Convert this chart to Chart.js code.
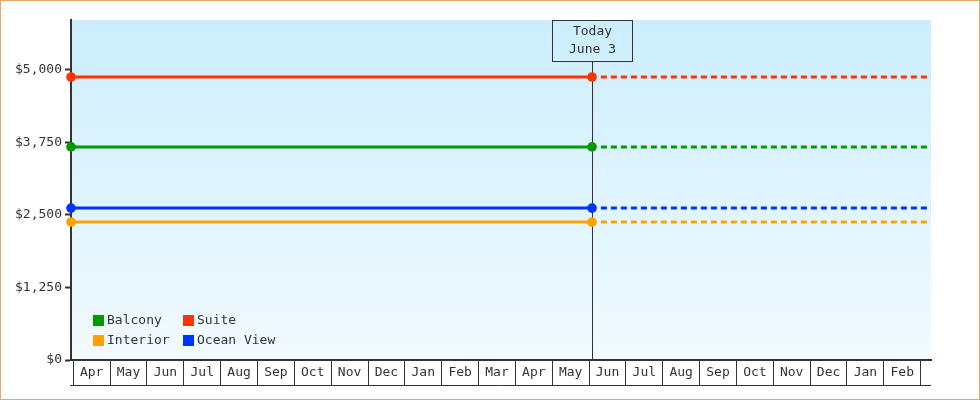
<!DOCTYPE html>
<html>
<head>
<meta charset="utf-8">
<script src="https://cdn.jsdelivr.net/npm/chart.js@4.4.1/dist/chart.umd.min.js"></script>
<style>
html,body{margin:0;padding:0;background:#fff;}
#wrap{width:980px;height:400px;position:relative;}
</style>
</head>
<body>
<div id="wrap"><canvas id="c" width="980" height="400"></canvas></div>
<script>
// ---- data ----
const monthLabels = ['Apr','May','Jun','Jul','Aug','Sep','Oct','Nov','Dec','Jan','Feb','Mar','Apr','May','Jun','Jul','Aug','Sep','Oct','Nov','Dec','Jan','Feb'];
const seriesNames = ['Balcony','Suite','Interior','Ocean View'];
const seriesValues = [3674, 4879, 2379, 2619];
const seriesColors = ['#009900','#ff3300','#ffa200','#0033ff'];
const yTickValues = [0, 1250, 2500, 3750, 5000];
const todayLabel = ['Today','June 3'];
const todayMonth = 14.08;   // June 3 in months since first April
const xMin = -0.062, xMax = 23.28, yMax = 5862;
const dashStartMonth = 14.32;

const FONT = '"DejaVu Sans Mono", monospace';
const INK = '#333333';

const datasets = seriesNames.map((name, i) => ({
  label: name,
  data: [
    {x: xMin, y: seriesValues[i]},
    {x: todayMonth, y: seriesValues[i]},
    {x: dashStartMonth, y: seriesValues[i]},
    {x: xMax, y: seriesValues[i]}
  ],
  borderColor: seriesColors[i],
  backgroundColor: seriesColors[i],
  borderWidth: 3,
  pointRadius: [4.8, 4.8, 0, 0],
  pointHoverRadius: 0,
  pointBorderWidth: 0,
  pointStyle: 'circle',
  tension: 0,
  clip: false,
  segment: {
    borderDash: ctx => ctx.p0DataIndex === 2 ? [6, 4] : undefined,
    borderColor: ctx => ctx.p0DataIndex === 1 ? 'rgba(0,0,0,0)' : undefined
  }
}));

const bgPlugin = {
  id: 'bg',
  beforeDraw(chart) {
    const {ctx, chartArea: a} = chart;
    ctx.save();
    ctx.fillStyle = '#ffffff';
    ctx.fillRect(0, 0, chart.width, chart.height);
    const g = ctx.createLinearGradient(0, a.top, 0, a.bottom);
    g.addColorStop(0, '#cceefc');
    g.addColorStop(1, '#f2faff');
    ctx.fillStyle = g;
    ctx.fillRect(a.left, a.top, a.right - a.left, a.bottom - a.top);
    ctx.restore();
  },
  afterDraw(chart) {
    const {ctx, chartArea: a} = chart;
    ctx.save();
    // box bottom line under month labels
    ctx.strokeStyle = INK;
    ctx.lineWidth = 1;
    ctx.beginPath();
    ctx.moveTo(a.left - 1, a.bottom + 25.5);
    ctx.lineTo(a.right, a.bottom + 25.5);
    ctx.stroke();
    // outer border
    ctx.strokeStyle = '#e9a862';
    ctx.lineWidth = 1;
    ctx.strokeRect(0.5, 0.5, chart.width - 1, chart.height - 1);
    ctx.restore();
  }
};

const todayPlugin = {
  id: 'today',
  beforeDatasetsDraw(chart) {
    const {ctx, chartArea: a} = chart;
    const px = Math.round(chart.scales.x.getPixelForValue(todayMonth)) + 0.5;
    const bw = 80, bh = 41;
    ctx.save();
    ctx.strokeStyle = INK;
    ctx.lineWidth = 1;
    ctx.strokeRect(Math.round(px - bw / 2) - 0.5, a.top + 0.5, bw, bh);
    ctx.beginPath();
    ctx.moveTo(px, a.top + bh);
    ctx.lineTo(px, a.bottom);
    ctx.stroke();
    ctx.fillStyle = INK;
    ctx.font = '13px ' + FONT;
    ctx.textAlign = 'center';
    ctx.textBaseline = 'middle';
    ctx.fillText(todayLabel[0], px, a.top + 12);
    ctx.fillText(todayLabel[1], px, a.top + 30);
    ctx.restore();
  }
};

const legendPlugin = {
  id: 'innerLegend',
  afterDatasetsDraw(chart) {
    const {ctx, chartArea: a} = chart;
    ctx.save();
    ctx.font = '13px ' + FONT;
    ctx.textAlign = 'left';
    ctx.textBaseline = 'middle';
    chart.data.datasets.forEach((ds, i) => {
      const col = i % 2, row = Math.floor(i / 2);
      const x = a.left + 22 + col * 90;
      const y = a.bottom - 45 + row * 20;
      ctx.fillStyle = ds.borderColor;
      ctx.fillRect(x, y, 11, 11);
      ctx.fillStyle = INK;
      ctx.fillText(ds.label, x + 14, y + 6);
    });
    ctx.restore();
  }
};

new Chart(document.getElementById('c'), {
  type: 'line',
  data: { datasets },
  options: {
    responsive: false,
    animation: false,
    devicePixelRatio: 1,
    layout: { padding: { left: 0, right: 49, top: 20, bottom: 0 } },
    plugins: { legend: { display: false }, tooltip: { enabled: false } },
    events: [],
    scales: {
      x: {
        type: 'linear',
        min: xMin,
        max: xMax,
        afterBuildTicks: s => { s.ticks = monthLabels.map((_, i) => ({ value: i })).concat([{ value: monthLabels.length }]); },
        afterFit: s => { s.height = 40; },
        grid: { drawOnChartArea: false, drawTicks: true, tickLength: 25, tickWidth: 1, tickColor: INK },
        border: { display: true, color: INK, width: 2 },
        ticks: {
          autoSkip: false,
          maxRotation: 0,
          minRotation: 0,
          labelOffset: 18.4,
          padding: -19.8,
          color: INK,
          font: { family: FONT, size: 13 },
          callback: v => monthLabels[v] !== undefined ? monthLabels[v] : ''
        }
      },
      y: {
        min: 0,
        max: yMax,
        afterBuildTicks: s => { s.ticks = yTickValues.map(v => ({ value: v })); },
        afterFit: s => { s.width = 71; },
        grid: { drawOnChartArea: false, drawTicks: true, tickLength: 6, tickWidth: 2, tickColor: INK },
        border: { display: true, color: INK, width: 2 },
        ticks: {
          padding: 3,
          color: INK,
          font: { family: FONT, size: 13 },
          callback: v => '$' + Number(v).toLocaleString('en-US')
        }
      }
    }
  },
  plugins: [bgPlugin, todayPlugin, legendPlugin]
});
</script>
</body>
</html>
